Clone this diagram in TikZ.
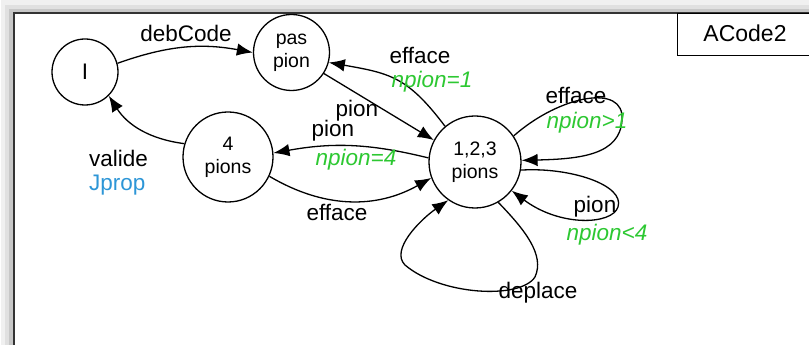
\documentclass[tikz,border=0pt]{standalone}
\usepackage{fontspec}
\setmainfont{Liberation Sans}
\usetikzlibrary{arrows.meta}
\definecolor{cgreen}{RGB}{45,200,50}
\definecolor{cblue}{RGB}{45,150,215}
\begin{document}
\begin{tikzpicture}[x=1pt,y=1pt,
  state/.style={draw,circle,line width=1.3pt,inner sep=0pt,align=center,
    font=\fontsize{19.5}{23}\selectfont},
  lbl/.style={font=\fontsize{22.5}{26}\selectfont,inner sep=1pt},
  glbl/.style={font=\fontsize{22.5}{26}\selectfont\itshape,text=cgreen,inner sep=1pt},
  arr/.style={line width=1.3pt,-{Latex[length=16pt,width=12.5pt]}}]
\useasboundingbox (0,0) rectangle (809,345);
% shadow and frame
\fill[black!6] (1,0) rectangle (812,345);
\fill[black!12] (5,0) |- (812,340) -- (812,0) -- cycle;
\fill[black!22] (9,0) |- (812,336) -- (812,0) -- cycle;
\fill[white] (14,-2) rectangle (812,332);
\draw[line width=2pt,black!80] (14,-2) -- (14,332) -- (812,332);
\node[draw,line width=1.2pt,minimum width=135pt,minimum height=42pt,anchor=north west,
  inner sep=0pt] (box) at (677,332) {};
\node[font=\fontsize{23}{26}\selectfont] (acode) at (745,312) {ACode2};
% states
\node[state,minimum size=66pt,font=\fontsize{22.5}{26}\selectfont] (I) at (85,273) {I};
\node[state,minimum size=76pt] (pas) at (291.5,292.5) {pas\\pion};
\node[state,minimum size=90pt] (q4) at (228,188) {4\\pions};
\node[state,minimum size=92pt] (c) at (475,183) {1,2,3\\pions};
% transitions
\draw[arr] (I.15) to[bend left=15] (pas.180);
\node[lbl] (l1) at (186,312) {debCode};
\draw[arr] (q4.163) to[bend left=25] (I.-45);
\node[lbl,anchor=west] (l2) at (88,187) {valide};
\node[lbl,anchor=west,text=cblue] (l2b) at (88,160) {Jprop};
\draw[arr] (pas.-33) -- (c.152);
\node[lbl] (l3) at (357,234) {pion};
\draw[arr] (c.130) to[out=127,in=-10,looseness=1.2] (pas.-15);
\node[lbl] (l4) at (420,290) {efface};
\node[glbl] (l4b) at (432,263) {npion=1};
\draw[arr] (c.175) to[bend right=12] (q4.5);
\node[lbl] (l5) at (333,214) {pion};
\node[glbl] (l5b) at (356,185) {npion=4};
\draw[arr] (q4.-25) to[bend right=30] (c.200);
\node[lbl] (l6) at (337,133) {efface};
\draw[arr] (c.34) .. controls (560,250) and (625,262) .. (622,225)
  .. controls (620,190) and (580,186) .. (c.2);
\node[lbl] (l7) at (576,250) {efface};
\node[glbl] (l7b) at (587,222) {npion>1};
\draw[arr] (c.-10) .. controls (570,178) and (625,160) .. (618,138)
  .. controls (612,120) and (560,118) .. (c.-38);
\node[lbl] (l8) at (595,138) {pion};
\node[glbl] (l8b) at (607,110) {npion<4};
\draw[arr] (c.-60) .. controls (525,115) and (545,90) .. (535,68)
  .. controls (520,45) and (440,50) .. (405,80)
  .. controls (390,95) and (420,125) .. (c.-125);
\node[lbl] (l9) at (538,52) {deplace};
\end{tikzpicture}
\end{document}
